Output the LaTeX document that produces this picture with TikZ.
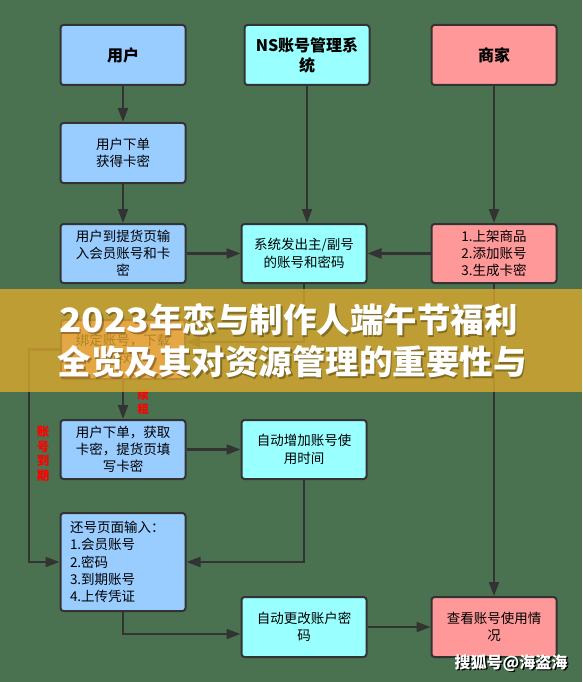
\documentclass[tikz,border=0pt]{standalone}
\usepackage{fontspec}
\setmainfont{Noto Sans CJK SC}
\usetikzlibrary{arrows.meta,calc}
\definecolor{bg}{RGB}{74,114,80}
\definecolor{ublue}{HTML}{99CCFF}
\definecolor{scyan}{HTML}{99FFFF}
\definecolor{mpink}{HTML}{FF9999}
\definecolor{lc}{HTML}{333333}
\definecolor{gold}{RGB}{222,170,45}
\begin{document}
\begin{tikzpicture}[x=1pt,y=-1pt,
  box/.style={draw=lc, line width=2pt, rounded corners=3pt, minimum width=125pt, minimum height=59pt, align=center, font=\fontsize{13.5}{17.3}\selectfont, inner sep=2pt},
  ubox/.style={box, fill=ublue},
  sbox/.style={box, fill=scyan},
  mbox/.style={box, fill=mpink},
  head/.style={font=\fontsize{16}{20}\selectfont\bfseries, minimum height=60pt},
  arr/.style={draw=lc, line width=2.2pt, -{Triangle[length=14pt,width=10pt]}},
  redlbl/.style={text=red, font=\fontsize{12.5}{14.5}\selectfont\bfseries, align=center, inner sep=0pt},
  bantext/.style={font=\fontsize{33.5}{40}\selectfont\bfseries, inner sep=0pt},
  wm/.style={font=\fontsize{16}{20}\selectfont\bfseries, inner sep=0pt}
]
\useasboundingbox (0,0) rectangle (582,682);
\fill[bg] (0,0) rectangle (582,682);

% column headers
\node[ubox, head] (user) at (123,55) {用户};
\node[sbox, head] (ns) at (307,55) {NS账号管理系\\统};
\node[mbox, head] (mer) at (494,55) {商家};

% boxes
\node[ubox, minimum height=60pt] (u2) at (123,153) {用户下单\\获得卡密};
\node[ubox] (u3) at (123,253.5) {用户到提货页输\\入会员账号和卡\\密};
\node[sbox] (sys) at (304,253.5) {系统发出主/副号\\的账号和密码};
\node[mbox] (mer2) at (494,253.5) {1.上架商品\\2.添加账号\\3.生成卡密};
\node[mbox, minimum width=124pt] (red) at (123,349.5) {绑定账号，下载\\游戏};
\node[ubox] (u4) at (123,449.5) {用户下单，获取\\卡密，提货页填\\写卡密};
\node[sbox] (auto1) at (304,449.5) {自动增加账号使\\用时间};
\node[ubox, minimum height=98pt, text width=106pt, inner xsep=9.5pt, align=left] (u5) at (123,562) {还号页面输入：\\1.会员账号\\2.密码\\3.到期账号\\4.上传凭证};
\node[sbox, minimum height=60pt] (auto2) at (304,627) {自动更改账户密\\码};
\node[mbox, minimum height=60pt] (view) at (494,627) {查看账号使用情\\况};

% connectors
\draw[arr] (user) -- (u2);
\draw[arr] (u2) -- (u3);
\draw[arr] (ns.south) -- (ns.south |- sys.north);
\draw[arr] (mer) -- (mer2);
\draw[arr] (u3) -- (sys);
\draw[arr] (mer2) -- (sys);
\draw[arr] (sys.south) |- ([yshift=7.5pt]red.east);
\draw[arr] (red) -- (u4);
\draw[arr] (red.west) -- ++(-31,0) |- (u5.west);
\draw[arr] (u4) -- (auto1);
\draw[arr] (auto1.south) |- (u5.east);
\draw[arr] (u5.south) |- ([yshift=-7pt]auto2.west);
\draw[arr] (auto2) -- (view);
\draw[arr] (mer2) -- (view);

% red labels
\node[redlbl] (expire) at (43,454) {账\\号\\到\\期};
\node[redlbl, font=\fontsize{11.5}{14}\selectfont\bfseries] (renew) at (143,402) {续\\租};

% banner overlay
\fill[gold, fill opacity=0.78] (0,289) rectangle (582,392);
\node[bantext, text=black, opacity=0.3] (t1s) at (290,321.5) {\scalebox{1.1}[1]{2023}年恋与制作人端午节福利};
\node[bantext, text=black, opacity=0.3] (t2s) at (293.5,363.5) {全览及其对资源管理的重要性与};
\node[bantext, text=white] (t1) at (288.5,320) {\scalebox{1.1}[1]{2023}年恋与制作人端午节福利};
\node[bantext, text=white] (t2) at (292,362) {全览及其对资源管理的重要性与};

% watermark
\node[wm, text=black] (wms) at (512.5,664.5) {搜狐号@海盗海};
\node[wm, text=white] (wmk) at (511,663) {搜狐号@海盗海};
\end{tikzpicture}
\end{document}
